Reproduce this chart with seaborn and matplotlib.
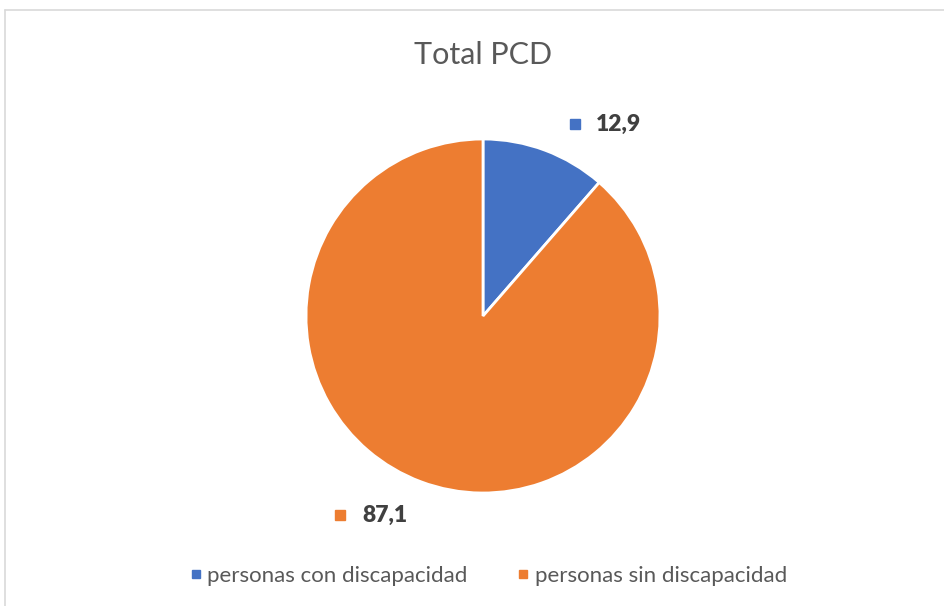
import matplotlib
matplotlib.use("Agg")
import matplotlib.pyplot as plt
import seaborn as sns
from matplotlib.lines import Line2D

categories = ["personas con discapacidad", "personas sin discapacidad"]
value_labels = ["12,9", "87,1"]
# slice shares as drawn in the reference picture (blue wedge spans ~41 degrees)
slice_shares = [11.4, 88.6]
colors = ["#4472C4", "#ED7D31"]
title = "Total PCD"

sns.set_theme(style="white")
plt.rcParams['font.family'] = ['Lato', 'DejaVu Sans']

W, H = 944, 606
fig = plt.figure(figsize=(W / 100, H / 100), dpi=100)
fig.patch.set_facecolor("white")

# border lines (top and left)
fig.add_artist(Line2D([4.5 / W, 1.0], [1 - 9.5 / H, 1 - 9.5 / H], color="#D9D9D9", lw=1.2))
fig.add_artist(Line2D([4.5 / W, 4.5 / W], [0, 1 - 9.5 / H], color="#D9D9D9", lw=1.2))

cx, cy, r = 483, 316, 177
ax = fig.add_axes([(cx - r) / W, (H - cy - r) / H, 2 * r / W, 2 * r / H])
ax.pie(slice_shares, colors=colors, startangle=90, counterclock=False, radius=1,
       wedgeprops=dict(edgecolor="white", linewidth=2))
ax.set_xlim(-1, 1)
ax.set_ylim(-1, 1)
ax.set_aspect("auto")
ax.axis("off")

# data labels
pos = [(0.52, 0.763, 1.085), (-0.808, -0.554, -1.124)]
for (mx, tx, ty), lab, c in zip(pos, value_labels, colors):
    ax.plot([mx], [ty], marker="s", ms=7, color=c, clip_on=False, ls="none")
    ax.text(tx, ty, lab, ha="center", va="center", fontsize=16.5, fontweight="heavy",
            color="#404040", clip_on=False)

fig.text(cx / W, 1 - 55 / H, title, ha="center", va="center", fontsize=22, color="#595959")

handles = [Line2D([], [], marker="s", ls="none", color=c, ms=6) for c in colors]
fig.legend(handles, categories, loc="center", bbox_to_anchor=(486 / W, 1 - 576 / H),
           ncol=2, frameon=False, fontsize=16, handletextpad=0.0, handlelength=1.0,
           columnspacing=2.0, labelcolor="#595959")

fig.savefig("out.png", dpi=100, facecolor="white")
